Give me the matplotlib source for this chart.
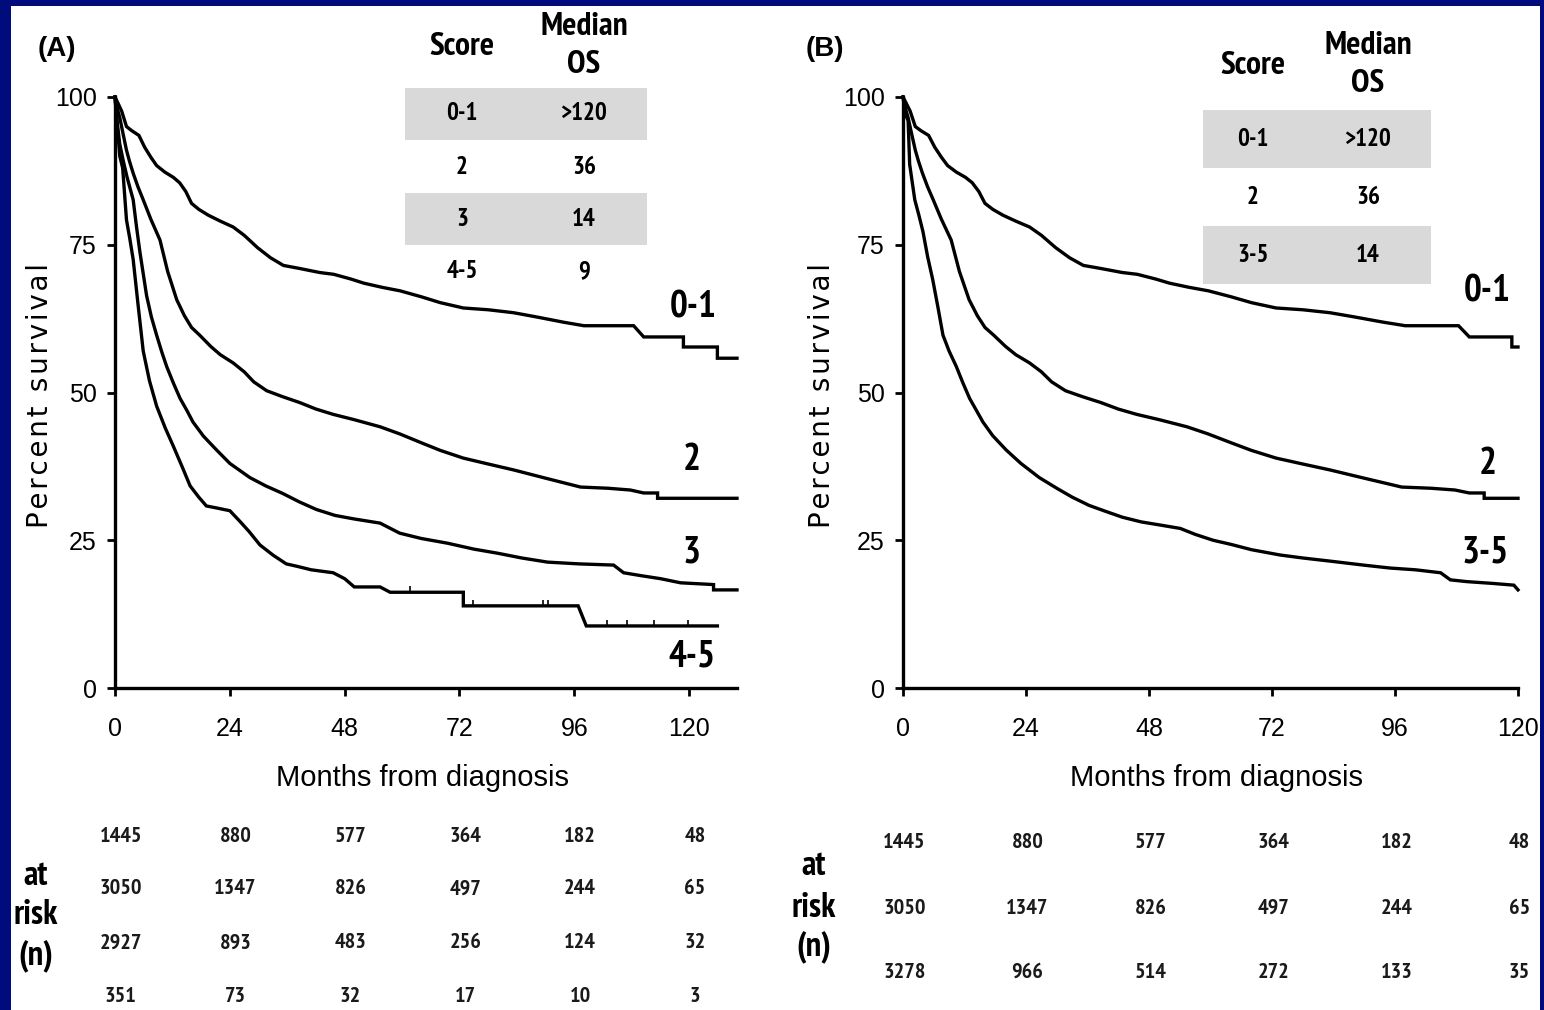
import numpy as np
import matplotlib
matplotlib.use('Agg')
import matplotlib.pyplot as plt
from matplotlib.patches import Rectangle
from matplotlib.transforms import blended_transform_factory

W, H = 1544, 1010
NAVY = '#000b7c'
GREY = '#d9d9d9'
NARROW = ['Liberation Sans Narrow', 'Arial Narrow', 'PT Sans Narrow', 'Archivo Narrow',
          'Liberation Sans', 'DejaVu Sans']
SANS = ['Liberation Sans', 'DejaVu Sans']

# Survival curves, percent surviving vs months from diagnosis (curve vertices)
t_01 = [0, 0.6, 1.4, 2.4, 3.5, 5.0, 6.2, 7.5, 8.7, 10.4, 12.2, 13.5, 14.8, 16.0, 17.5,
        19.5, 22.0, 24.7, 27.0, 29.8, 32.5, 35.2, 38.5, 42.8, 45.7, 49.3, 52.0, 55.8,
        59.6, 64.0, 68.0, 72.8, 78.0, 83.3, 88.0, 93.7, 98.0, 108.4, 110.5, 118.8,
        118.8, 125.9, 125.9, 130.0]
s_01 = [100, 99.0, 97.6, 95.0, 94.3, 93.5, 91.5, 89.8, 88.4, 87.3, 86.4, 85.5, 84.0,
        82.0, 81.0, 80.0, 79.0, 78.0, 76.6, 74.5, 72.8, 71.5, 71.0, 70.3, 70.0, 69.2,
        68.5, 67.8, 67.2, 66.2, 65.2, 64.3, 64.0, 63.5, 62.8, 61.9, 61.3, 61.3, 59.4,
        59.4, 57.7, 57.7, 55.8, 55.8]

t_2 = [0, 0.5, 1.0, 1.5, 2.4, 3.0, 3.8, 4.8, 5.9, 7.5, 9.4, 11.0, 12.9, 14.5, 16.0,
       17.7, 20.0, 22.0, 24.7, 27.0, 29.0, 31.7, 35.0, 38.6, 42.0, 45.6, 50.0, 55.4,
       59.5, 64.0, 68.0, 72.8, 78.0, 83.3, 90.0, 97.3, 103.0, 107.7, 110.5, 113.4,
       113.4, 130.0]
s_2 = [100, 98.0, 96.5, 94.5, 91.0, 89.2, 87.1, 84.8, 82.6, 79.3, 75.8, 70.5, 65.7,
       63.0, 61.0, 59.7, 57.8, 56.4, 55.0, 53.5, 51.8, 50.3, 49.3, 48.3, 47.2, 46.3,
       45.4, 44.2, 43.0, 41.5, 40.2, 38.9, 37.9, 36.9, 35.5, 34.0, 33.8, 33.5, 33.0,
       33.0, 32.1, 32.1]

t_3 = [0, 0.4, 1.0, 1.7, 2.5, 3.8, 4.5, 5.2, 6.6, 7.6, 8.7, 9.8, 10.8, 12.2, 13.6,
       15.0, 16.3, 18.5, 21.2, 24.0, 28.2, 31.5, 35.1, 38.5, 42.1, 46.0, 50.0, 55.4,
       59.5, 64.0, 69.5, 75.0, 80.0, 85.0, 90.4, 97.0, 104.2, 106.3, 110.0, 114.0,
       118.2, 125.1, 125.1, 130.0]
s_3 = [100, 96.0, 92.0, 89.3, 86.5, 82.6, 78.0, 73.8, 66.4, 62.8, 59.7, 56.8, 54.4,
       51.6, 49.0, 47.0, 45.0, 42.6, 40.3, 38.0, 35.6, 34.2, 32.9, 31.5, 30.2, 29.2,
       28.6, 27.9, 26.2, 25.3, 24.5, 23.5, 22.8, 22.0, 21.3, 21.0, 20.8, 19.5, 19.0,
       18.5, 17.8, 17.5, 16.6, 16.6]

t_45 = [0, 0.5, 1.0, 1.6, 2.4, 3.1, 3.8, 4.8, 5.9, 7.2, 8.7, 10.5, 12.2, 14.0, 15.7,
        17.5, 19.1, 21.0, 24.0, 26.1, 28.0, 30.3, 33.0, 35.8, 38.0, 41.0, 45.6, 48.0,
        50.0, 55.4, 57.5, 72.8, 72.8, 96.8, 98.5, 125.9]
s_45 = [100, 95.0, 90.0, 88.0, 79.2, 76.0, 72.5, 65.0, 57.0, 52.0, 47.7, 44.0, 40.9,
        37.5, 34.2, 32.3, 30.8, 30.5, 30.0, 28.2, 26.5, 24.2, 22.5, 21.0, 20.6, 20.0,
        19.5, 18.5, 17.1, 17.1, 16.2, 16.2, 13.9, 13.9, 10.5, 10.5]
cens_45 = [61.7, 74.9, 89.5, 90.6, 102.9, 107.1, 112.6, 119.7]

t_35 = [0, 0.5, 1.0, 1.3, 2.3, 3.1, 3.9, 4.8, 5.8, 6.8, 7.8, 9.0, 10.4, 11.7, 13.0,
        14.3, 15.6, 17.5, 20.1, 23.0, 26.6, 30.0, 33.0, 36.3, 39.5, 42.8, 46.5, 50.0,
        54.1, 57.0, 60.5, 64.0, 68.0, 73.6, 78.0, 84.0, 89.8, 95.0, 100.0, 104.9,
        106.8, 110.0, 115.0, 119.2, 120.0]
s_35 = [100, 97.0, 96.0, 88.6, 82.6, 80.0, 77.2, 73.0, 69.1, 64.5, 59.7, 57.0, 54.4,
        51.6, 49.0, 47.0, 45.0, 42.7, 40.3, 38.0, 35.6, 33.8, 32.3, 30.9, 29.9, 28.9,
        28.1, 27.6, 27.0, 26.0, 25.0, 24.3, 23.4, 22.5, 22.0, 21.4, 20.8, 20.3, 20.0,
        19.5, 18.3, 18.0, 17.7, 17.4, 16.6]

month_ticks = [0, 24, 48, 72, 96, 120]
pct_ticks = [0, 25, 50, 75, 100]

table_a = [('0-1', '>120'), ('2', '36'), ('3', '14'), ('4-5', '9')]
table_b = [('0-1', '>120'), ('2', '36'), ('3-5', '14')]

risk_a = [[1445, 880, 577, 364, 182, 48],
          [3050, 1347, 826, 497, 244, 65],
          [2927, 893, 483, 256, 124, 32],
          [351, 73, 32, 17, 10, 3]]
risk_b = [[1445, 880, 577, 364, 182, 48],
          [3050, 1347, 826, 497, 244, 65],
          [3278, 966, 514, 272, 133, 35]]


def px(x, y):
    return x / W, 1 - y / H


def truncate(t, s, tmax):
    t = np.asarray(t, float)
    s = np.asarray(s, float)
    keep = t <= tmax
    return np.append(t[keep], tmax), np.append(s[keep], s[keep][-1])


fig = plt.figure(figsize=(W / 100, H / 100), dpi=100, facecolor=NAVY)
# white slide area inside the navy frame
fig.patches.append(Rectangle((11 / W, 0), (1540 - 11) / W, (H - 6) / H,
                             transform=fig.transFigure, facecolor='white',
                             edgecolor='none', zorder=-2))


def make_axes(x0, x1, xmax):
    ax = fig.add_axes([x0 / W, 1 - 688 / H, (x1 - x0) / W, 591 / H])
    ax.set_zorder(1)
    ax.patch.set_visible(False)
    ax.set_xlim(0, xmax)
    ax.set_ylim(0, 100)
    for side in ('top', 'right'):
        ax.spines[side].set_visible(False)
    for side in ('left', 'bottom'):
        ax.spines[side].set_linewidth(2.4)
    ax.set_xticks(month_ticks)
    ax.set_yticks(pct_ticks)
    ax.tick_params(axis='both', direction='out', length=6, width=2, labelsize=18)
    ax.tick_params(axis='x', pad=15)
    ax.tick_params(axis='y', pad=7)
    for lab in ax.get_xticklabels() + ax.get_yticklabels():
        lab.set_family(SANS)
    return ax


def km(ax, t, s):
    ax.plot(t, s, color='black', lw=2.4, clip_on=False, solid_joinstyle='miter')


def draw_table(rows, x_score, x_os, y_head, y_rows, band_x, band_h):
    fig.text(*px(x_score, y_head), 'Score', ha='center', va='center',
             fontsize=24, weight='bold', family=NARROW)
    fig.text(*px(x_os, y_head - 20), 'Median', ha='center', va='center',
             fontsize=24, weight='bold', family=NARROW)
    fig.text(*px(x_os, y_head + 18), 'OS', ha='center', va='center',
             fontsize=24, weight='bold', family=NARROW)
    for i, ((score, os_), y) in enumerate(zip(rows, y_rows)):
        if i % 2 == 0:
            fig.patches.append(Rectangle(px(band_x[0], y + band_h / 2),
                                         (band_x[1] - band_x[0]) / W, band_h / H,
                                         transform=fig.transFigure, facecolor=GREY,
                                         edgecolor='none', zorder=-1))
        fig.text(*px(x_score, y), score, ha='center', va='center',
                 fontsize=18, weight='bold', family=NARROW, zorder=2)
        fig.text(*px(x_os, y), os_, ha='center', va='center',
                 fontsize=18, weight='bold', family=NARROW, zorder=2)


def draw_risk(ax, counts, rows_y, shift, label_x, label_y):
    trans = blended_transform_factory(ax.transData, fig.transFigure)
    for row, y in zip(counts, rows_y):
        for m, n in zip(month_ticks, row):
            ax.text(m + shift, 1 - y / H, str(n), transform=trans, ha='center',
                    va='center', fontsize=16, weight='bold', family=NARROW,
                    color='#1a1a1a', clip_on=False)
    for word, y in zip(['at', 'risk', '(n)'], label_y):
        fig.text(*px(label_x, y), word, ha='center', va='center', fontsize=25,
                 weight='bold', family=NARROW)


def y_title(x):
    fig.text(*px(x, 395), '\u200a'.join('Percent survival'), rotation=90,
             ha='center', va='center', fontsize=20, family='DejaVu Sans')


# ---- panel A ----
ax_a = make_axes(115, 737, 130)
km(ax_a, t_01, s_01)
km(ax_a, t_2, s_2)
km(ax_a, t_3, s_3)
km(ax_a, t_45, s_45)
ax_a.plot(cens_45, np.interp(cens_45, t_45, s_45) + 0.5, ls='none', marker='|',
          ms=5, mew=1.2, color='black')

fig.text(*px(57, 49), '(A)', ha='center', va='center', fontsize=20,
         weight='bold', family=SANS)
y_title(40)
fig.text(*px(423, 778), 'Months from diagnosis', ha='center', va='center',
         fontsize=21, family=SANS)
draw_table(table_a, 462, 584, 47, [114, 167, 219, 272], (405, 647), 52)
for lab, (x, y) in zip(['0-1', '2', '3', '4-5'],
                       [(693, 308), (692, 461), (692, 553), (692, 657)]):
    fig.text(*px(x, y), lab, ha='center', va='center', fontsize=27,
             weight='bold', family=NARROW)
draw_risk(ax_a, risk_a, [836, 889, 943, 997], 1.2, 36, [876, 915, 957])

# ---- panel B ----
ax_b = make_axes(903, 1518, 120)
km(ax_b, *truncate(t_01, s_01, 120))
km(ax_b, *truncate(t_2, s_2, 120))
km(ax_b, t_35, s_35)

fig.text(*px(825, 49), '(B)', ha='center', va='center', fontsize=20,
         weight='bold', family=SANS)
y_title(822)
fig.text(*px(1216, 778), 'Months from diagnosis', ha='center', va='center',
         fontsize=21, family=SANS)
draw_table(table_b, 1253, 1368, 66, [139, 197, 255], (1203, 1431), 57)
for lab, (x, y) in zip(['0-1', '2', '3-5'],
                       [(1487, 292), (1488, 464), (1485, 553)]):
    fig.text(*px(x, y), lab, ha='center', va='center', fontsize=27,
             weight='bold', family=NARROW)
draw_risk(ax_b, risk_b, [843, 908, 972], 0.3, 814, [866, 908, 948])

fig.savefig('out.png', dpi=100, facecolor=NAVY)
